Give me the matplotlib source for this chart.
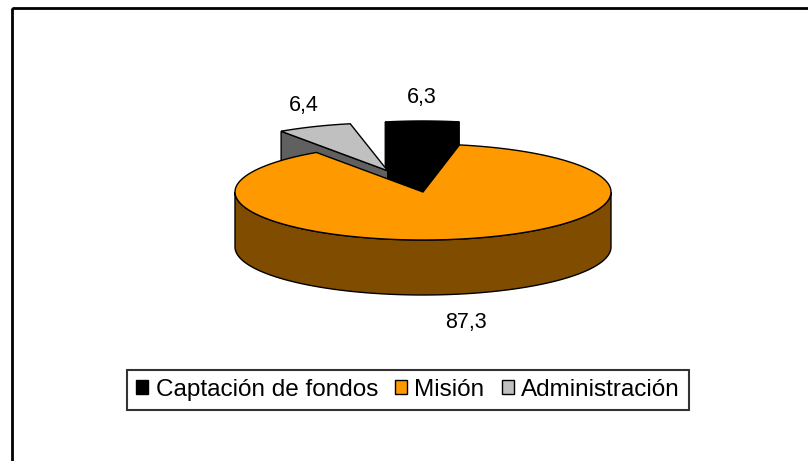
import numpy as np
import matplotlib
matplotlib.use('Agg')
import matplotlib.pyplot as plt
from matplotlib.patches import Polygon, Rectangle, Patch

# data
labels = ['Captación de fondos', 'Misión', 'Administración']
values = [6.3, 87.3, 6.4]
value_text = ['6,3', '87,3', '6,4']
top_colors = ['#000000', '#FF9900', '#C0C0C0']
side_colors = ['#000000', '#7F4C00', '#606060']
explode = [0.48, 0.0, 0.48]

# pie geometry (pixels, y down)
cx, cy = 423, 192
rx, ry = 188, 48
depth = 55
start = -11.5  # degrees clockwise from the back

plt.rcParams['font.family'] = ['Liberation Sans', 'DejaVu Sans']

fig = plt.figure(figsize=(8.08, 4.61), dpi=100)
ax = fig.add_axes([0, 0, 1, 1])
ax.set_xlim(0, 808)
ax.set_ylim(461, 0)
ax.axis('off')


def rim(theta, ox, oy, dz=0):
    t = np.radians(theta)
    return ox + rx * np.sin(t), oy - ry * np.cos(t) + dz


fracs = np.array(values) / sum(values) * 360
bounds = start + np.concatenate([[0], np.cumsum(fracs)])

slices = []
for i in range(len(values)):
    a1, a2 = bounds[i], bounds[i + 1]
    mid = (a1 + a2) / 2
    m = np.radians(mid)
    ox = cx + rx * explode[i] * np.sin(m)
    oy = cy - ry * explode[i] * np.cos(m)
    slices.append((np.cos(m), i, a1, a2, mid, ox, oy))

# back to front
slices.sort(key=lambda s: -s[0])

for _, i, a1, a2, mid, ox, oy in slices:
    ec = 'black'
    # outer wall (front half only)
    lo, hi = max(a1, 90), min(a2, 270)
    if hi > lo:
        th = np.linspace(lo, hi, 80)
        xt, yt = rim(th, ox, oy)
        xb, yb = rim(th[::-1], ox, oy, depth)
        pts = np.column_stack([np.concatenate([xt, xb]), np.concatenate([yt, yb])])
        ax.add_patch(Polygon(pts, closed=True, fc=side_colors[i], ec=ec, lw=1))
    # radial walls facing the viewer
    for ang, sgn in ((a1, -1), (a2, 1)):
        normal = np.radians(ang + sgn * 90)
        if np.cos(normal) < 0:
            xr, yr = rim(ang, ox, oy)
            pts = [(ox, oy), (xr, yr), (xr, yr + depth), (ox, oy + depth)]
            ax.add_patch(Polygon(pts, closed=True, fc=side_colors[i], ec=ec, lw=1))
    # top face
    th = np.linspace(a1, a2, 200)
    xt, yt = rim(th, ox, oy)
    pts = np.column_stack([np.concatenate([[ox], xt]), np.concatenate([[oy], yt])])
    ax.add_patch(Polygon(pts, closed=True, fc=top_colors[i], ec=ec, lw=1))

    # value label
    m = np.radians(mid)
    lx, ly = rim(mid, ox, oy)
    if np.cos(m) < 0:
        ly += depth
    ax.text(lx + 26 * np.sin(m), ly - 26 * np.cos(m) + 3, value_text[i],
            ha='center', va='center', fontsize=15.5)

# chart area border
ax.add_patch(Rectangle((12, 8), 900, 600, fill=False, ec='black', lw=2.0))

handles = [Patch(fc=c, ec='black', lw=1) for c in top_colors]
leg = ax.legend(handles, labels, ncol=3, loc='center',
                bbox_to_anchor=(408 / 808, 1 - 390 / 461), fontsize=17.5,
                frameon=True, fancybox=False, edgecolor='black',
                handlelength=0.5, handleheight=0.5, handletextpad=0.3,
                columnspacing=0.7, borderpad=0.38, borderaxespad=0)
leg.get_frame().set_linewidth(1.5)

fig.savefig('out.png', dpi=100)
